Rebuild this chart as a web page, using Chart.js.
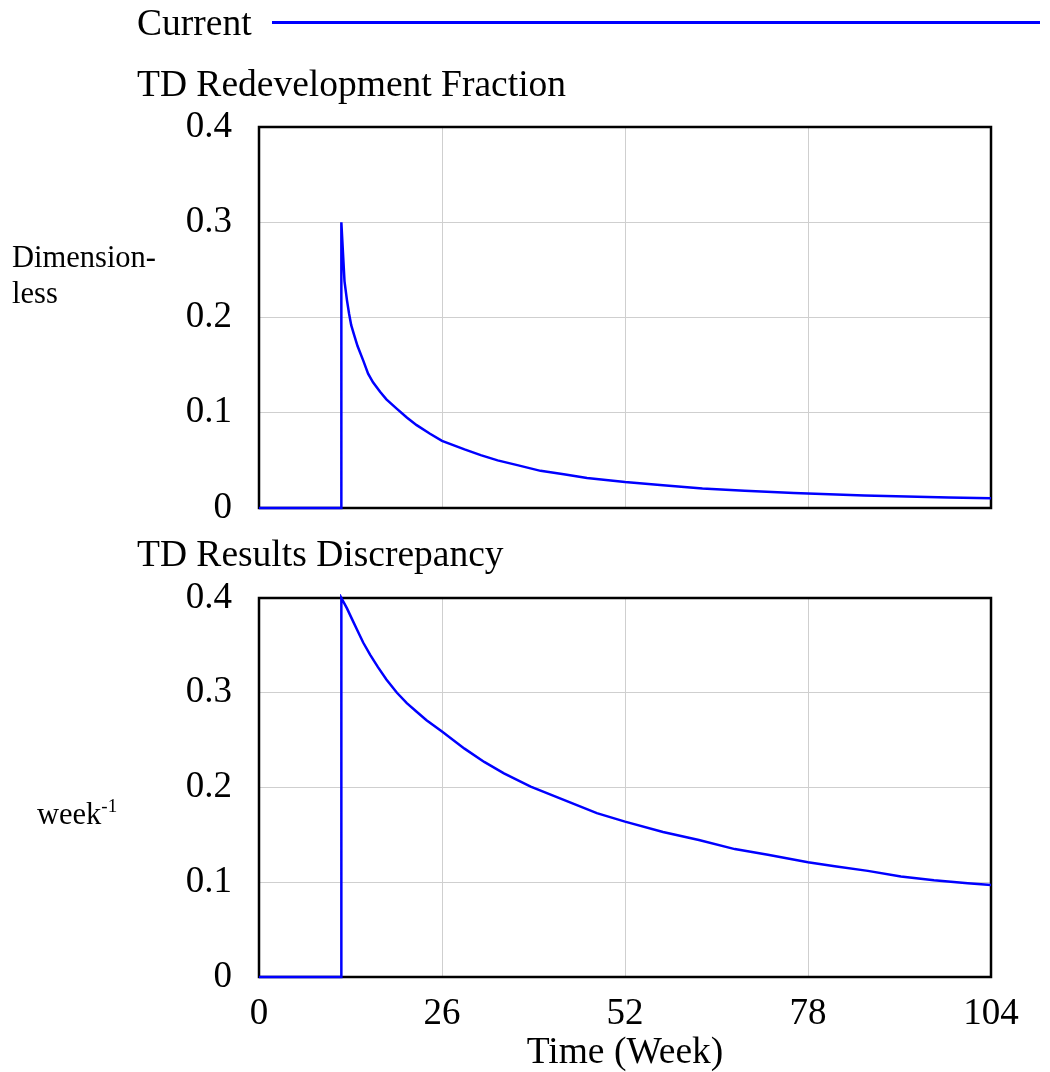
<!DOCTYPE html>
<html>
<head>
<meta charset="utf-8">
<script src="https://cdn.jsdelivr.net/npm/chart.js@4.4.1/dist/chart.umd.min.js"></script>
<style>
    body { margin: 0; background: #fff; }
    #wrap { position: relative; width: 1050px; height: 1072px; font-family: "Liberation Serif", "Times New Roman", serif; color: #000; }
    canvas { position: absolute; left: 0; top: 0; }
    .lbl { position: absolute; white-space: nowrap; font-size: 37.5px; line-height: 36px; }
    .unit { position: absolute; white-space: nowrap; font-size: 30.5px; line-height: 36px; }
    .unit sup { font-size: 19px; vertical-align: 12px; }
    #legendLine { position: absolute; left: 272px; top: 21px; width: 768px; height: 2.5px; background: #0000ff; }
</style>
</head>
<body>
<div id="wrap">
    <canvas id="topChart" width="1050" height="1072"></canvas>
    <canvas id="bottomChart" width="1050" height="1072"></canvas>
    <div class="lbl" style="left:137px; top:5px;">Current</div>
    <div id="legendLine"></div>
    <div class="lbl" style="left:137px; top:66px;">TD Redevelopment Fraction</div>
    <div class="lbl" style="left:137px; top:536px;">TD Results Discrepancy</div>
    <div class="unit" style="left:12px; top:239px;">Dimension-<br>less</div>
    <div class="unit" style="left:37px; top:788px;">week<sup>-1</sup></div>
    <div class="lbl" style="left:625px; top:1033px; transform: translateX(-50%);">Time (Week)</div>
</div>
<script>
// values (time in weeks)
const redevWeeks = [0, 11.7, 11.7, 11.9, 12.15, 12.5, 12.8, 13.1, 13.5, 14, 14.8, 15.5, 16.2, 17.2, 18.1,
    19.6, 21, 22.4, 24.3, 26, 29.2, 31.5, 33.9, 36.7, 40, 43.3, 46.6, 52, 57.4, 63, 69, 76, 86, 98, 104];
const redevFraction = [0, 0, 0.3, 0.272, 0.238, 0.218, 0.204, 0.192, 0.182, 0.17, 0.155, 0.141, 0.132, 0.122, 0.114,
    0.104, 0.095, 0.087, 0.078, 0.0705, 0.0615, 0.0555, 0.05, 0.045, 0.039, 0.0355, 0.0315, 0.0272, 0.0238, 0.0205, 0.018, 0.0158, 0.013, 0.011, 0.0103];

const discWeeks = [0, 11.7, 11.7, 12.5, 13.2, 13.9, 14.8, 15.8, 16.9, 18.1, 19.6, 21, 22.4, 23.8, 26,
    29.2, 32, 34.8, 38.6, 43.3, 48, 52, 57.4, 62.5, 67.6, 72.3, 78, 81.8, 86.5, 91.2, 95.9, 100.7, 104];
const discrepancy = [0, 0, 0.4, 0.389, 0.378, 0.367, 0.353, 0.34, 0.327, 0.314, 0.3, 0.289, 0.28, 0.271, 0.259,
    0.241, 0.227, 0.215, 0.201, 0.187, 0.173, 0.164, 0.153, 0.1445, 0.135, 0.129, 0.121, 0.117, 0.112, 0.106, 0.102, 0.099, 0.097];

const xTicks = [0, 26, 52, 78, 104];
const yTicks = [0, 0.1, 0.2, 0.3, 0.4];

const serif = '"Liberation Serif", "Times New Roman", serif';

// black frame round the plot area, drawn under the line
const framePlugin = {
    id: 'frame',
    beforeDatasetsDraw(chart) {
        const a = chart.chartArea;
        const ctx = chart.ctx;
        ctx.save();
        ctx.strokeStyle = '#000';
        ctx.lineWidth = 2.5;
        ctx.strokeRect(a.left, a.top, a.right - a.left, a.bottom - a.top);
        ctx.restore();
    }
};

function makeChart(canvasId, weeks, values, top, bottom, showXLabels) {
    const ctx = document.getElementById(canvasId).getContext('2d');
    return new Chart(ctx, {
        type: 'scatter',
        data: {
            datasets: [{
                label: 'Current',
                data: weeks.map((t, i) => ({ x: t, y: values[i] })),
                showLine: true,
                borderColor: '#0000ff',
                borderWidth: 2.5,
                pointRadius: 0,
                tension: 0,
                clip: 4
            }]
        },
        options: {
            responsive: false,
            animation: false,
            layout: { padding: { left: 0, right: 1050 - 991, top: top, bottom: showXLabels ? 1072 - bottom - 60 : 1072 - bottom } },
            plugins: { legend: { display: false }, tooltip: { enabled: false } },
            scales: {
                x: {
                    type: 'linear',
                    min: 0,
                    max: 104,
                    afterBuildTicks: axis => { axis.ticks = xTicks.map(v => ({ value: v })); },
                    afterFit: axis => { axis.height = showXLabels ? 60 : 0; },
                    grid: { color: '#cfcfcf', lineWidth: 1, drawTicks: false },
                    border: { display: false },
                    ticks: {
                        display: showXLabels,
                        color: '#000',
                        padding: 15,
                        maxRotation: 0,
                        font: { family: serif, size: 37 }
                    }
                },
                y: {
                    min: 0,
                    max: 0.4,
                    afterBuildTicks: axis => { axis.ticks = yTicks.map(v => ({ value: v })); },
                    afterFit: axis => { axis.width = 259; },
                    grid: { color: '#cfcfcf', lineWidth: 1, drawTicks: false },
                    border: { display: false },
                    ticks: {
                        color: '#000',
                        padding: 27,
                        font: { family: serif, size: 37 },
                        callback: v => String(+v.toFixed(1))
                    }
                }
            }
        },
        plugins: [framePlugin]
    });
}

makeChart('topChart', redevWeeks, redevFraction, 127, 508, false);
makeChart('bottomChart', discWeeks, discrepancy, 598, 977, true);
</script>
</body>
</html>
